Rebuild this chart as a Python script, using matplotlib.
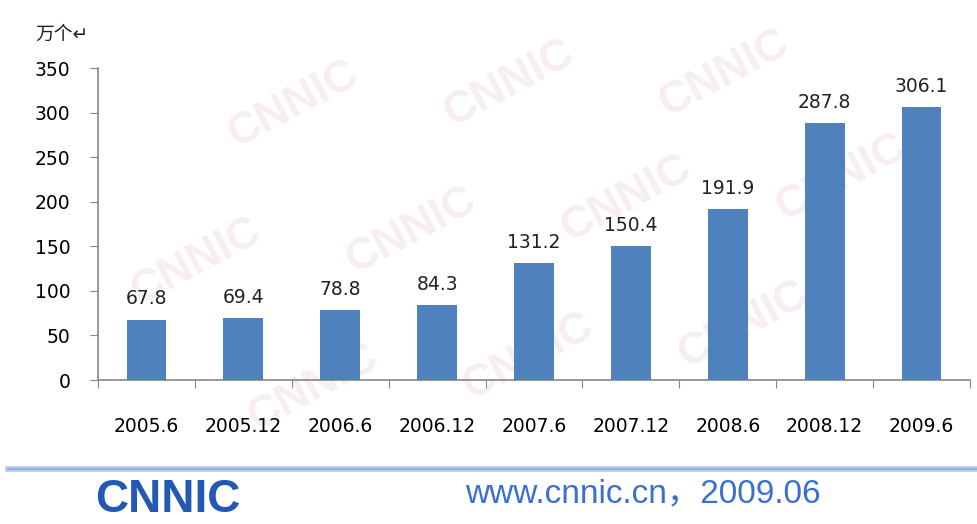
import matplotlib.pyplot as plt
from matplotlib.lines import Line2D

# data
periods = ['2005.6', '2005.12', '2006.6', '2006.12', '2007.6',
           '2007.12', '2008.6', '2008.12', '2009.6']
values = [67.8, 69.4, 78.8, 84.3, 131.2, 150.4, 191.9, 287.8, 306.1]
y_ticks = [0, 50, 100, 150, 200, 250, 300, 350]

plt.rcParams['font.family'] = ['DejaVu Sans', 'Noto Sans CJK SC']

fig = plt.figure(figsize=(9.78, 5.24), dpi=100)
fig.patch.set_facecolor('white')

# faint watermark behind the chart
wm_pos = [(0.30, 0.80), (0.52, 0.84), (0.74, 0.86),
          (0.20, 0.50), (0.42, 0.56), (0.64, 0.62), (0.86, 0.66),
          (0.32, 0.26), (0.54, 0.32), (0.76, 0.38)]
for x, y in wm_pos:
    fig.text(x, y, 'CNNIC', fontsize=32, fontweight='bold', color='#f7eef1',
             rotation=28, ha='center', va='center', zorder=-1,
             family='Liberation Sans')

ax = fig.add_axes([98 / 978, 1 - 380 / 524, 872 / 978, 312 / 524])
ax.patch.set_alpha(0)

pos = list(range(len(periods)))
bars = ax.bar(pos, values, width=0.41, color='#4f81bd', zorder=3)

for p, v in zip(pos, values):
    ax.annotate(f'{v:.1f}', (p, v), xytext=(0, 8), textcoords='offset points',
                ha='center', va='bottom', fontsize=13.5, color='#222222')

ax.set_xlim(-0.5, len(periods) - 0.5)
ax.set_ylim(0, 350)
ax.set_yticks(y_ticks)
ax.set_yticklabels([str(t) for t in y_ticks], fontsize=13.5)

# boundaries get the tick marks, centres get the labels
ax.set_xticks([p - 0.5 for p in pos] + [len(periods) - 0.5])
ax.set_xticklabels([])
ax.set_xticks(pos, minor=True)
ax.set_xticklabels(periods, minor=True, fontsize=13.5)
ax.tick_params(axis='x', which='minor', length=0, pad=27)
ax.tick_params(axis='x', which='major', length=6, color='#868686')
ax.tick_params(axis='y', length=6, pad=14, color='#868686')

for s in ['top', 'right']:
    ax.spines[s].set_visible(False)
for s in ['left', 'bottom']:
    ax.spines[s].set_color('#868686')
    ax.spines[s].set_linewidth(1.2)

fig.text(35 / 978, 1 - 34 / 524, '万个↵', fontsize=13.5, ha='left', va='center',
         family=['Noto Sans CJK SC', 'DejaVu Sans'], color='#222222')

# footer
fig.add_artist(Line2D([8 / 978, 1], [1 - 469 / 524] * 2, color='#b3c9ea', lw=4))
fig.add_artist(Line2D([8 / 978, 1], [1 - 469 / 524] * 2, color='#8fb0e0', lw=1.2))
fig.text(95 / 978, 1 - 500 / 524, 'CNNIC', fontsize=33, fontweight='bold',
         color='#2358b5', ha='left', va='center', family='Liberation Sans')
fig.text(465 / 978, 1 - 494 / 524, 'www.cnnic.cn，2009.06', fontsize=24,
         color='#3a6fd0', ha='left', va='center',
         family=['Liberation Sans', 'Noto Sans CJK SC'])

fig.savefig('out.png', dpi=100)
